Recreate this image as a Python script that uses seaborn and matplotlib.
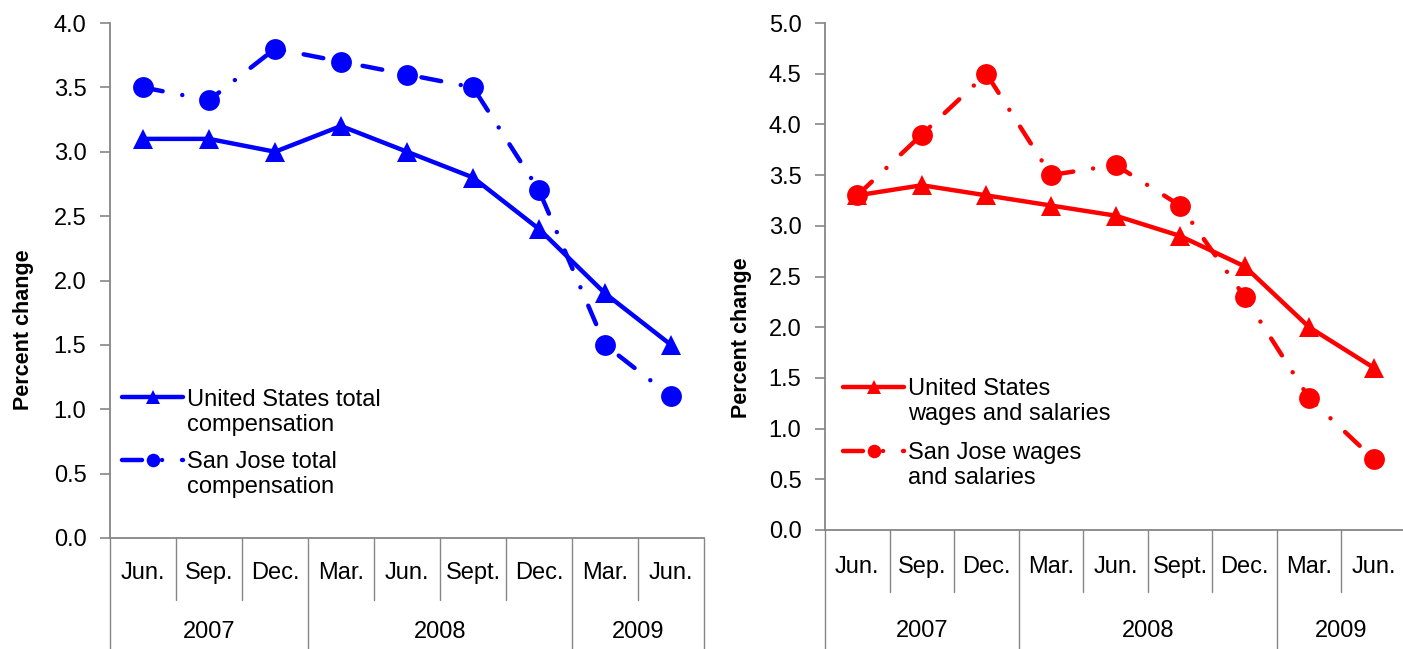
import matplotlib
matplotlib.use("Agg")
import matplotlib.pyplot as plt
import matplotlib.transforms as mtransforms
import seaborn as sns
import pandas as pd

# ---- data ----
months = ["Jun.", "Sep.", "Dec.", "Mar.", "Jun.", "Sept.", "Dec.", "Mar.", "Jun."]
years = ["2007", "2008", "2009"]
year_spans = [(0, 2), (3, 6), (7, 8)]

us_total_comp = [3.1, 3.1, 3.0, 3.2, 3.0, 2.8, 2.4, 1.9, 1.5]
sj_total_comp = [3.5, 3.4, 3.8, 3.7, 3.6, 3.5, 2.7, 1.5, 1.1]
us_wages = [3.3, 3.4, 3.3, 3.2, 3.1, 2.9, 2.6, 2.0, 1.6]
sj_wages = [3.3, 3.9, 4.5, 3.5, 3.6, 3.2, 2.3, 1.3, 0.7]

left_labels = ["United States total\ncompensation", "San Jose total\ncompensation"]
right_labels = ["United States\nwages and salaries", "San Jose wages\nand salaries"]

sns.set_theme(style="white")
plt.rcParams["font.family"] = ["Liberation Sans", "DejaVu Sans"]
plt.rcParams["text.color"] = "black"

W, H = 1403, 649
fig = plt.figure(figsize=(W / 100, H / 100), dpi=100)

GRAY = "#868686"
FS = 17
dashdot = (0, (4.5, 4.5, 0.01, 4.5))


def px_axes(l, t, r, b):
    return fig.add_axes([l / W, (H - b) / H, (r - l) / W, (b - t) / H])


def draw_panel(ax, us, sj, color, labels, ymax, geom):
    x = list(range(len(months)))
    df_us = pd.DataFrame({"x": x, "y": us})
    df_sj = pd.DataFrame({"x": x, "y": sj})
    sns.lineplot(data=df_us, x="x", y="y", ax=ax, color=color, linewidth=3.2,
                 marker="^", markersize=15, markeredgecolor=color,
                 markeredgewidth=0, label=labels[0].split("\n")[0],
                 clip_on=False)
    sns.lineplot(data=df_sj, x="x", y="y", ax=ax, color=color, linewidth=3.2,
                 linestyle=dashdot, dash_capstyle="round",
                 marker="o", markersize=15, markeredgecolor=color,
                 markeredgewidth=0, label=labels[1].split("\n")[0],
                 clip_on=False)
    ax.set_xlim(-0.5, len(months) - 0.5)
    ax.set_ylim(0, ymax)
    n = int(round(ymax / 0.5)) + 1
    ax.set_yticks([i * 0.5 for i in range(n)])
    ax.set_yticklabels([f"{i * 0.5:.1f}" for i in range(n)],
                       fontsize=FS, color="black")
    ax.set_xticks([])
    ax.set_xlabel("")
    ax.set_ylabel("Percent change", fontsize=15.5, fontweight="bold",
                  color="black")
    ax.yaxis.set_label_coords(geom["ylab_x"], geom["ylab_y"])
    ax.tick_params(axis="y", direction="out", length=7, width=1.2,
                   color=GRAY, pad=10, left=True)
    for s in ["top", "right"]:
        ax.spines[s].set_visible(False)
    for s in ["left", "bottom"]:
        ax.spines[s].set_color(GRAY)
        ax.spines[s].set_linewidth(1.3)
    ax.set_facecolor("none")

    trans = mtransforms.blended_transform_factory(ax.transData, ax.transAxes)
    year_bounds = {-0.5} | {e + 0.5 for _, e in year_spans}
    for i in range(len(months) + 1):
        b = i - 0.5
        y0 = -0.3 if b in year_bounds else geom["msep"]
        ax.plot([b, b], [0, y0], transform=trans, color=GRAY, lw=1.0,
                clip_on=False)
    for i, m in enumerate(months):
        ax.text(i, geom["mlab"], m, transform=trans, ha="center",
                va="center", fontsize=FS, color="black")
    for yr, (s, e) in zip(years, year_spans):
        ax.text((s + e) / 2, geom["ylab"], yr, transform=trans, ha="center",
                va="center", fontsize=FS, color="black")

    leg = ax.legend(loc="upper left", bbox_to_anchor=geom["leg"],
                    frameon=False, fontsize=FS, handlelength=2.6,
                    handletextpad=0.15, labelspacing=geom["lsp"], borderpad=0,
                    borderaxespad=0, markerscale=0.65)
    for t in leg.get_texts():
        t.set_color("black")
    return leg


axL = px_axes(110, 23, 704, 538)
axR = px_axes(825, 23, 1406, 530)

legL = draw_panel(axL, us_total_comp, sj_total_comp, "#0000FF", left_labels,
                  4.0, dict(ylab_x=-0.128, ylab_y=0.405, msep=-0.12,
                            mlab=-0.068, ylab=-0.1825, leg=(0.02, 0.29),
                            lsp=1.72))
legR = draw_panel(axR, us_wages, sj_wages, "#FF0000", right_labels,
                  5.0, dict(ylab_x=-0.125, ylab_y=0.38, msep=-0.122,
                            mlab=-0.073, ylab=-0.199, leg=(0.031, 0.30),
                            lsp=1.78))

# second lines of the legend labels
fig.canvas.draw()
renderer = fig.canvas.get_renderer()
for leg, labels in [(legL, left_labels), (legR, right_labels)]:
    for t, lab in zip(leg.get_texts(), labels):
        bb = t.get_window_extent(renderer)
        fig.text(bb.x0 / W, (bb.y0 - 3.0) / H, lab.split("\n")[1],
                 ha="left", va="top", fontsize=FS, color="black")

fig.savefig("out.png", dpi=100)
